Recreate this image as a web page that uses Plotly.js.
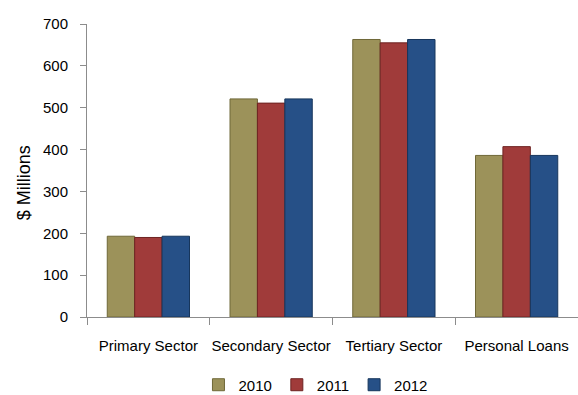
<!DOCTYPE html>
<html>
<head>
<meta charset="utf-8">
<script src="https://cdn.plot.ly/plotly-3.0.1.min.js"></script>
<style>html,body{margin:0;padding:0;background:#fff;}#chart{width:578px;height:395px;}</style>
</head>
<body>
<div id="chart"></div>
<script>
const categories = ["Primary Sector", "Secondary Sector", "Tertiary Sector", "Personal Loans"];
const seriesNames = ["2010", "2011", "2012"];
const values2010 = [193, 521, 663, 386];
const values2011 = [190, 511, 655, 407];
const values2012 = [193, 521, 663, 386];
const yTitle = "$ Millions";
const colors = ["#9C925A", "#A03B3A", "#265087"];
const lineColors = ["#6f6838", "#6e2322", "#17365c"];

const allValues = [values2010, values2011, values2012];
const font = "'Liberation Sans', Arial, sans-serif";

const traces = seriesNames.map((name, i) => ({
  type: "bar",
  name: name,
  x: categories,
  y: allValues[i],
  marker: { color: colors[i], line: { color: lineColors[i], width: 1 } },
  hoverinfo: "x+y+name"
}));

const layout = {
  width: 578,
  height: 395,
  margin: { l: 87, r: 0, t: 24, b: 78, autoexpand: false },
  paper_bgcolor: "#fff",
  plot_bgcolor: "#fff",
  barmode: "group",
  bargap: 0.33,
  bargroupgap: 0,
  showlegend: true,
  legend: {
    orientation: "h",
    x: 0.227, xanchor: "left",
    y: -0.232, yanchor: "middle",
    font: { family: font, size: 15, color: "#000" },
    traceorder: "normal"
  },
  xaxis: {
    type: "category",
    showline: true, linecolor: "#8c8c8c", linewidth: 1,
    ticks: "outside", tickson: "boundaries", ticklen: 7, tickcolor: "#8c8c8c",
    showgrid: false, tickangle: 0,
    tickfont: { family: font, size: 15, color: "#000" },
    ticklabelstandoff: 15
  },
  yaxis: {
    range: [0, 700], dtick: 100,
    showline: true, linecolor: "#8c8c8c", linewidth: 1,
    ticks: "outside", ticklen: 6, tickcolor: "#8c8c8c",
    showgrid: false, zeroline: false,
    tickfont: { family: font, size: 15, color: "#000" },
    ticklabelstandoff: 9
  },
  annotations: [{
    text: yTitle,
    xref: "paper", yref: "paper",
    x: -0.128, y: 0.457,
    xanchor: "center", yanchor: "middle",
    textangle: -90, showarrow: false,
    font: { family: font, size: 18, color: "#000" }
  }]
};

Plotly.newPlot("chart", traces, layout, { displayModeBar: false, staticPlot: true });
</script>
</body>
</html>
